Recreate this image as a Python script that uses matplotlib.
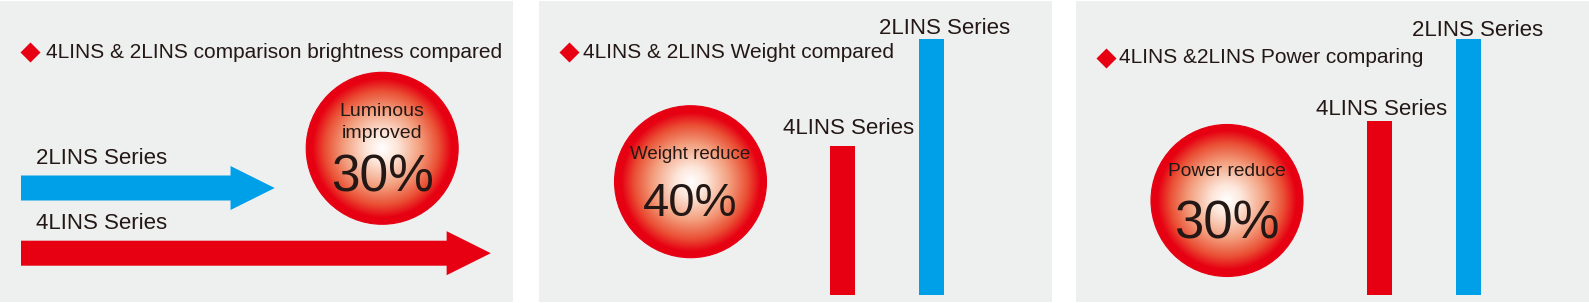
import numpy as np
import matplotlib.pyplot as plt
from matplotlib.patches import Circle, Rectangle, FancyArrow
from matplotlib.colors import LinearSegmentedColormap

plt.rcParams['font.family'] = ['Liberation Sans', 'DejaVu Sans']

W, H = 1589, 303
RED = '#e60012'
BLUE = '#00a0e9'
TXT = '#231815'
BG = '#eeefef'

# data
series = ['4LINS Series', '2LINS Series']
brightness = [100, 54]   # arrow length, 4LINS = 100
weight = [58, 100]       # bar height, 2LINS = 100
power = [68, 100]        # bar height, 2LINS = 100
titles = ['4LINS & 2LINS comparison brightness compared',
          '4LINS & 2LINS Weight compared',
          '4LINS &2LINS Power comparing']
badge_labels = [['Luminous', 'improved'], ['Weight reduce'], ['Power reduce']]
badge_values = ['30%', '40%', '30%']

fig = plt.figure(figsize=(W / 100, H / 100), dpi=100)
base = fig.add_axes([0, 0, 1, 1])
base.set_xlim(0, W)
base.set_ylim(H, 0)
base.axis('off')


def px_axes(x0, y0, x1, y1):
    ax = fig.add_axes([x0 / W, 1 - y1 / H, (x1 - x0) / W, (y1 - y0) / H])
    ax.axis('off')
    return ax


# panel backgrounds
for x0 in [0, 539, 1076]:
    base.add_patch(Rectangle((x0, 1), 513, 301, color=BG, lw=0, zorder=0))

# titles with red diamonds
diamond_xy = [(30.2, 52), (569.2, 51.5), (1106, 57.5)]
title_xy = [(45.6, 58.3), (582.7, 58.3), (1118.8, 63.3)]
for (dx, dy), (tx, ty), t in zip(diamond_xy, title_xy, titles):
    base.plot(dx, dy, marker='D', ms=10, color=RED, mec='none')
    base.text(tx, ty, t, fontsize=15, color=TXT, va='baseline')

# gradient badges
cmap = LinearSegmentedColormap.from_list(
    'badge', [(0, '#ffffff'), (0.2, '#fde6da'), (0.5, '#f3a07f'),
              (0.75, '#ea5035'), (0.92, RED), (1, RED)])
n = 400
yy, xx = np.mgrid[-1:1:n * 1j, -1:1:n * 1j]
img = cmap(np.clip(np.hypot(xx, yy), 0, 1))
R = 76
centers = [(382.2, 148.3), (690.5, 181.7), (1227, 200.5)]
for cx, cy in centers:
    im = base.imshow(img, extent=(cx - R, cx + R, cy + R, cy - R),
                     interpolation='bilinear', zorder=2)
    clip = Circle((cx, cy), R, transform=base.transData)
    im.set_clip_path(clip)
    base.add_patch(Circle((cx, cy), R, fill=False, ec=RED, lw=0.8, zorder=3))
base.set_aspect('auto')
base.set_xlim(0, W)
base.set_ylim(H, 0)

label_y = [[115.5, 137.7], [159.3], [176]]
label_fs = [14, 13.5, 13.8]
value_y = [191, 216.5, 238.3]
value_fs = [37, 34, 38]
for (cx, cy), labs, ly, lfs, val, vy, vfs in zip(
        centers, badge_labels, label_y, label_fs, badge_values, value_y, value_fs):
    for lab, y in zip(labs, ly):
        base.text(cx, y, lab, fontsize=lfs, color=TXT, ha='center',
                  va='baseline', zorder=4)
    base.text(cx, vy, val, fontsize=vfs, color=TXT, ha='center',
              va='baseline', zorder=4)

# brightness arrows
ax_arr = px_axes(21, 160, 490.8, 280)
ax_arr.set_xlim(0, 100)
ax_arr.set_ylim(120, 0)
arrow_y = [93.2, 28]
for name, val, y, c in zip(series, brightness, arrow_y, [RED, BLUE]):
    ax_arr.add_patch(FancyArrow(0, y, val, 0, width=25, head_width=44,
                                head_length=9.4, length_includes_head=True,
                                color=c, lw=0))
    ax_arr.text(3.2, y - 24, name, fontsize=16, color=TXT, va='baseline')

# weight and power bars
bar_boxes = [(797.9, 975.9), (1335, 1513)]
label_offsets = [[(6, 12), (13, 4.7)], [(2, 5.7), (9, 3.3)]]
for (x0, x1), vals, offs in zip(bar_boxes, [weight, power], label_offsets):
    ax = px_axes(x0, 39, x1, 294.7)
    ax.bar(range(len(series)), vals, width=0.275, color=[RED, BLUE])
    ax.set_xlim(-0.5, 1.5)
    ax.set_ylim(0, 100)
    for i, (name, v) in enumerate(zip(series, vals)):
        ax.annotate(name, (i, v), xytext=offs[i], textcoords='offset pixels',
                    ha='center', va='baseline', fontsize=16, color=TXT,
                    annotation_clip=False)

fig.savefig('out.png', dpi=100)
